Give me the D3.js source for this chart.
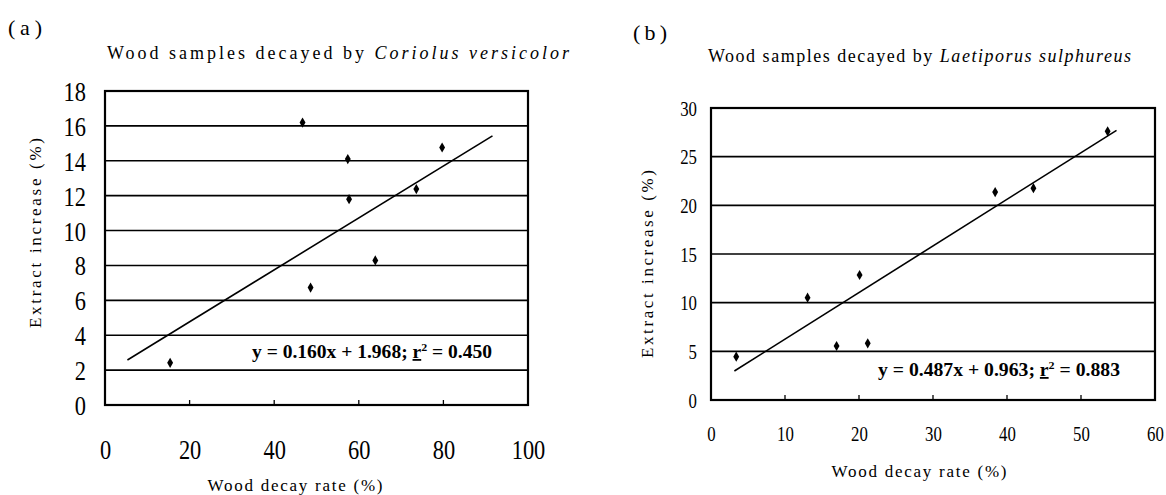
<!DOCTYPE html>
<html><head><meta charset="utf-8">
<script src="https://cdnjs.cloudflare.com/ajax/libs/d3/7.8.5/d3.min.js"></script>
<style>
body{margin:0;background:#fff;}
svg{display:block;}
</style></head>
<body><svg id="c" width="1166" height="495"></svg>
<script>
// ---- Panel (a) data: Coriolus versicolor ----
const xTicksA = [0, 20, 40, 60, 80, 100];
const yTicksA = [0, 2, 4, 6, 8, 10, 12, 14, 16, 18];
const decayA = [15.4, 46.7, 48.6, 57.4, 57.7, 63.9, 73.6, 79.7];
const extractA = [2.42, 16.19, 6.73, 14.1, 11.8, 8.29, 12.38, 14.76];
const trendXA = [5.3, 91.6];
const trendYA = [2.58, 15.43];
const eqA = ["y = 0.160x + 1.968; ", "r", "2", " = 0.450"];
const titleA = ["Wood samples decayed by ", "Coriolus versicolor"];

// ---- Panel (b) data: Laetiporus sulphureus ----
const xTicksB = [0, 10, 20, 30, 40, 50, 60];
const yTicksB = [0, 5, 10, 15, 20, 25, 30];
const decayB = [3.41, 13.05, 16.97, 20.08, 21.18, 38.4, 43.57, 53.6];
const extractB = [4.45, 10.51, 5.55, 12.84, 5.82, 21.36, 21.76, 27.6];
const trendXB = [3.16, 54.8];
const trendYB = [2.98, 27.7];
const eqB = ["y = 0.487x + 0.963; ", "r", "2", " = 0.883"];
const titleB = ["Wood samples decayed by ", "Laetiporus sulphureus"];

const xLabel = "Wood decay rate (%)";
const yLabel = "Extract increase (%)";

const svg = d3.select("#c");
const SERIF = "'Liberation Serif', 'Times New Roman', serif";

function panel(o) {
  const x = d3.scaleLinear().domain(o.xDomain).range([o.left, o.right]);
  const y = d3.scaleLinear().domain(o.yDomain).range([o.bottom, o.top]);
  const g = svg.append("g");

  // gridlines
  g.selectAll("line.grid").data(o.yTicks).enter().append("line")
    .attr("x1", o.left).attr("x2", o.right)
    .attr("y1", d => y(d)).attr("y2", d => y(d))
    .attr("stroke", "#000").attr("stroke-width", 1.6);

  // inner x ticks
  g.selectAll("line.xt").data(o.xTicks.slice(1, -1)).enter().append("line")
    .attr("x1", d => x(d)).attr("x2", d => x(d))
    .attr("y1", o.bottom).attr("y2", o.bottom - 5)
    .attr("stroke", "#000").attr("stroke-width", 1.3);

  // frame
  g.append("rect").attr("x", o.left).attr("y", o.top)
    .attr("width", o.right - o.left).attr("height", o.bottom - o.top)
    .attr("fill", "none").attr("stroke", "#000").attr("stroke-width", 2.2);

  // y axis labels
  const ya = d3.axisLeft(y).tickValues(o.yTicks).tickSize(0).tickPadding(0);
  const yg = g.append("g").attr("transform", `translate(${o.left},0)`).call(ya);
  yg.select(".domain").remove();
  yg.selectAll("text")
    .attr("font-family", SERIF).attr("font-size", o.tickFont).attr("fill", "#000")
    .attr("x", -o.yPad / o.sx).attr("dy", "0.34em")
    .attr("transform", `scale(${o.sx},1)`);

  // x axis labels
  const xa = d3.axisBottom(x).tickValues(o.xTicks).tickSize(0).tickPadding(0);
  const xg = g.append("g").attr("transform", `translate(0,${o.xLabelY})`).call(xa);
  xg.select(".domain").remove();
  xg.selectAll(".tick text")
    .attr("font-family", SERIF).attr("font-size", o.tickFont).attr("fill", "#000")
    .attr("y", 0).attr("dy", "0.34em")
    .attr("transform", `scale(${o.sx},1)`);

  // trend line
  const lineData = o.trendX.map((v, i) => [v, o.trendY[i]]);
  g.append("path").datum(lineData)
    .attr("d", d3.line().x(d => x(d[0])).y(d => y(d[1])))
    .attr("fill", "none").attr("stroke", "#000").attr("stroke-width", 1.6);

  // points
  const pts = o.px.map((v, i) => [v, o.py[i]]);
  g.selectAll("path.pt").data(pts).enter().append("path")
    .attr("d", d3.symbol(d3.symbolDiamond, 30))
    .attr("transform", d => `translate(${x(d[0])},${y(d[1])})`)
    .attr("fill", "#000");

  // equation
  const eq = g.append("text").attr("x", o.eqX).attr("y", o.eqY)
    .attr("font-family", SERIF).attr("font-size", 18).attr("font-weight", "bold")
    .attr("textLength", o.eqW).attr("lengthAdjust", "spacingAndGlyphs");
  eq.append("tspan").text(o.eq[0]);
  eq.append("tspan").text(o.eq[1]).attr("text-decoration", "underline");
  eq.append("tspan").text(o.eq[2]).attr("font-size", 11).attr("dy", -7);
  eq.append("tspan").text(o.eq[3]).attr("dy", 7);

  // title
  const t = svg.append("text").attr("x", o.titleX).attr("y", o.titleY)
    .attr("font-family", SERIF).attr("font-size", 18).attr("fill", "#000")
    .attr("textLength", o.titleW).attr("lengthAdjust", "spacing");
  t.append("tspan").text(o.title[0]);
  t.append("tspan").text(o.title[1]).attr("font-style", "italic");

  // panel tag
  svg.append("text").attr("x", o.tagX).attr("y", o.tagY)
    .attr("font-family", SERIF).attr("font-size", 22)
    .attr("textLength", 34).attr("lengthAdjust", "spacing")
    .text(o.tag);

  // axis titles
  svg.append("text").attr("x", o.xtX).attr("y", o.xtY)
    .attr("text-anchor", "middle")
    .attr("font-family", SERIF).attr("font-size", 17)
    .attr("textLength", o.xtW).attr("lengthAdjust", "spacing")
    .text(xLabel);
  svg.append("text")
    .attr("transform", `translate(${o.ytX},${o.ytY}) rotate(-90)`)
    .attr("text-anchor", "middle").attr("dy", "0.35em")
    .attr("font-family", SERIF).attr("font-size", 17)
    .attr("textLength", o.ytW).attr("lengthAdjust", "spacing")
    .text(yLabel);
}

panel({
  xDomain: [0, 100], yDomain: [0, 18],
  left: 105, right: 528, top: 91, bottom: 405,
  xTicks: xTicksA, yTicks: yTicksA,
  px: decayA, py: extractA, trendX: trendXA, trendY: trendYA,
  tickFont: 28, sx: 0.8, yPad: 19, xLabelY: 449,
  eq: eqA, eqX: 252, eqY: 358, eqW: 240,
  title: titleA, titleX: 107, titleY: 59, titleW: 462,
  tag: "(a)", tagX: 8, tagY: 35,
  xtX: 295, xtY: 491, xtW: 175,
  ytX: 35, ytY: 233, ytW: 190
});

panel({
  xDomain: [0, 60], yDomain: [0, 30],
  left: 711, right: 1155, top: 108, bottom: 400,
  xTicks: xTicksB, yTicks: yTicksB,
  px: decayB, py: extractB, trendX: trendXB, trendY: trendYB,
  tickFont: 21, sx: 0.8, yPad: 14, xLabelY: 434,
  eq: eqB, eqX: 878, eqY: 376, eqW: 242,
  title: titleB, titleX: 708, titleY: 62, titleW: 423,
  tag: "(b)", tagX: 633, tagY: 40,
  xtX: 919, xtY: 477, xtW: 175,
  ytX: 647, ytY: 264, ytW: 188
});
</script>
</body></html>
